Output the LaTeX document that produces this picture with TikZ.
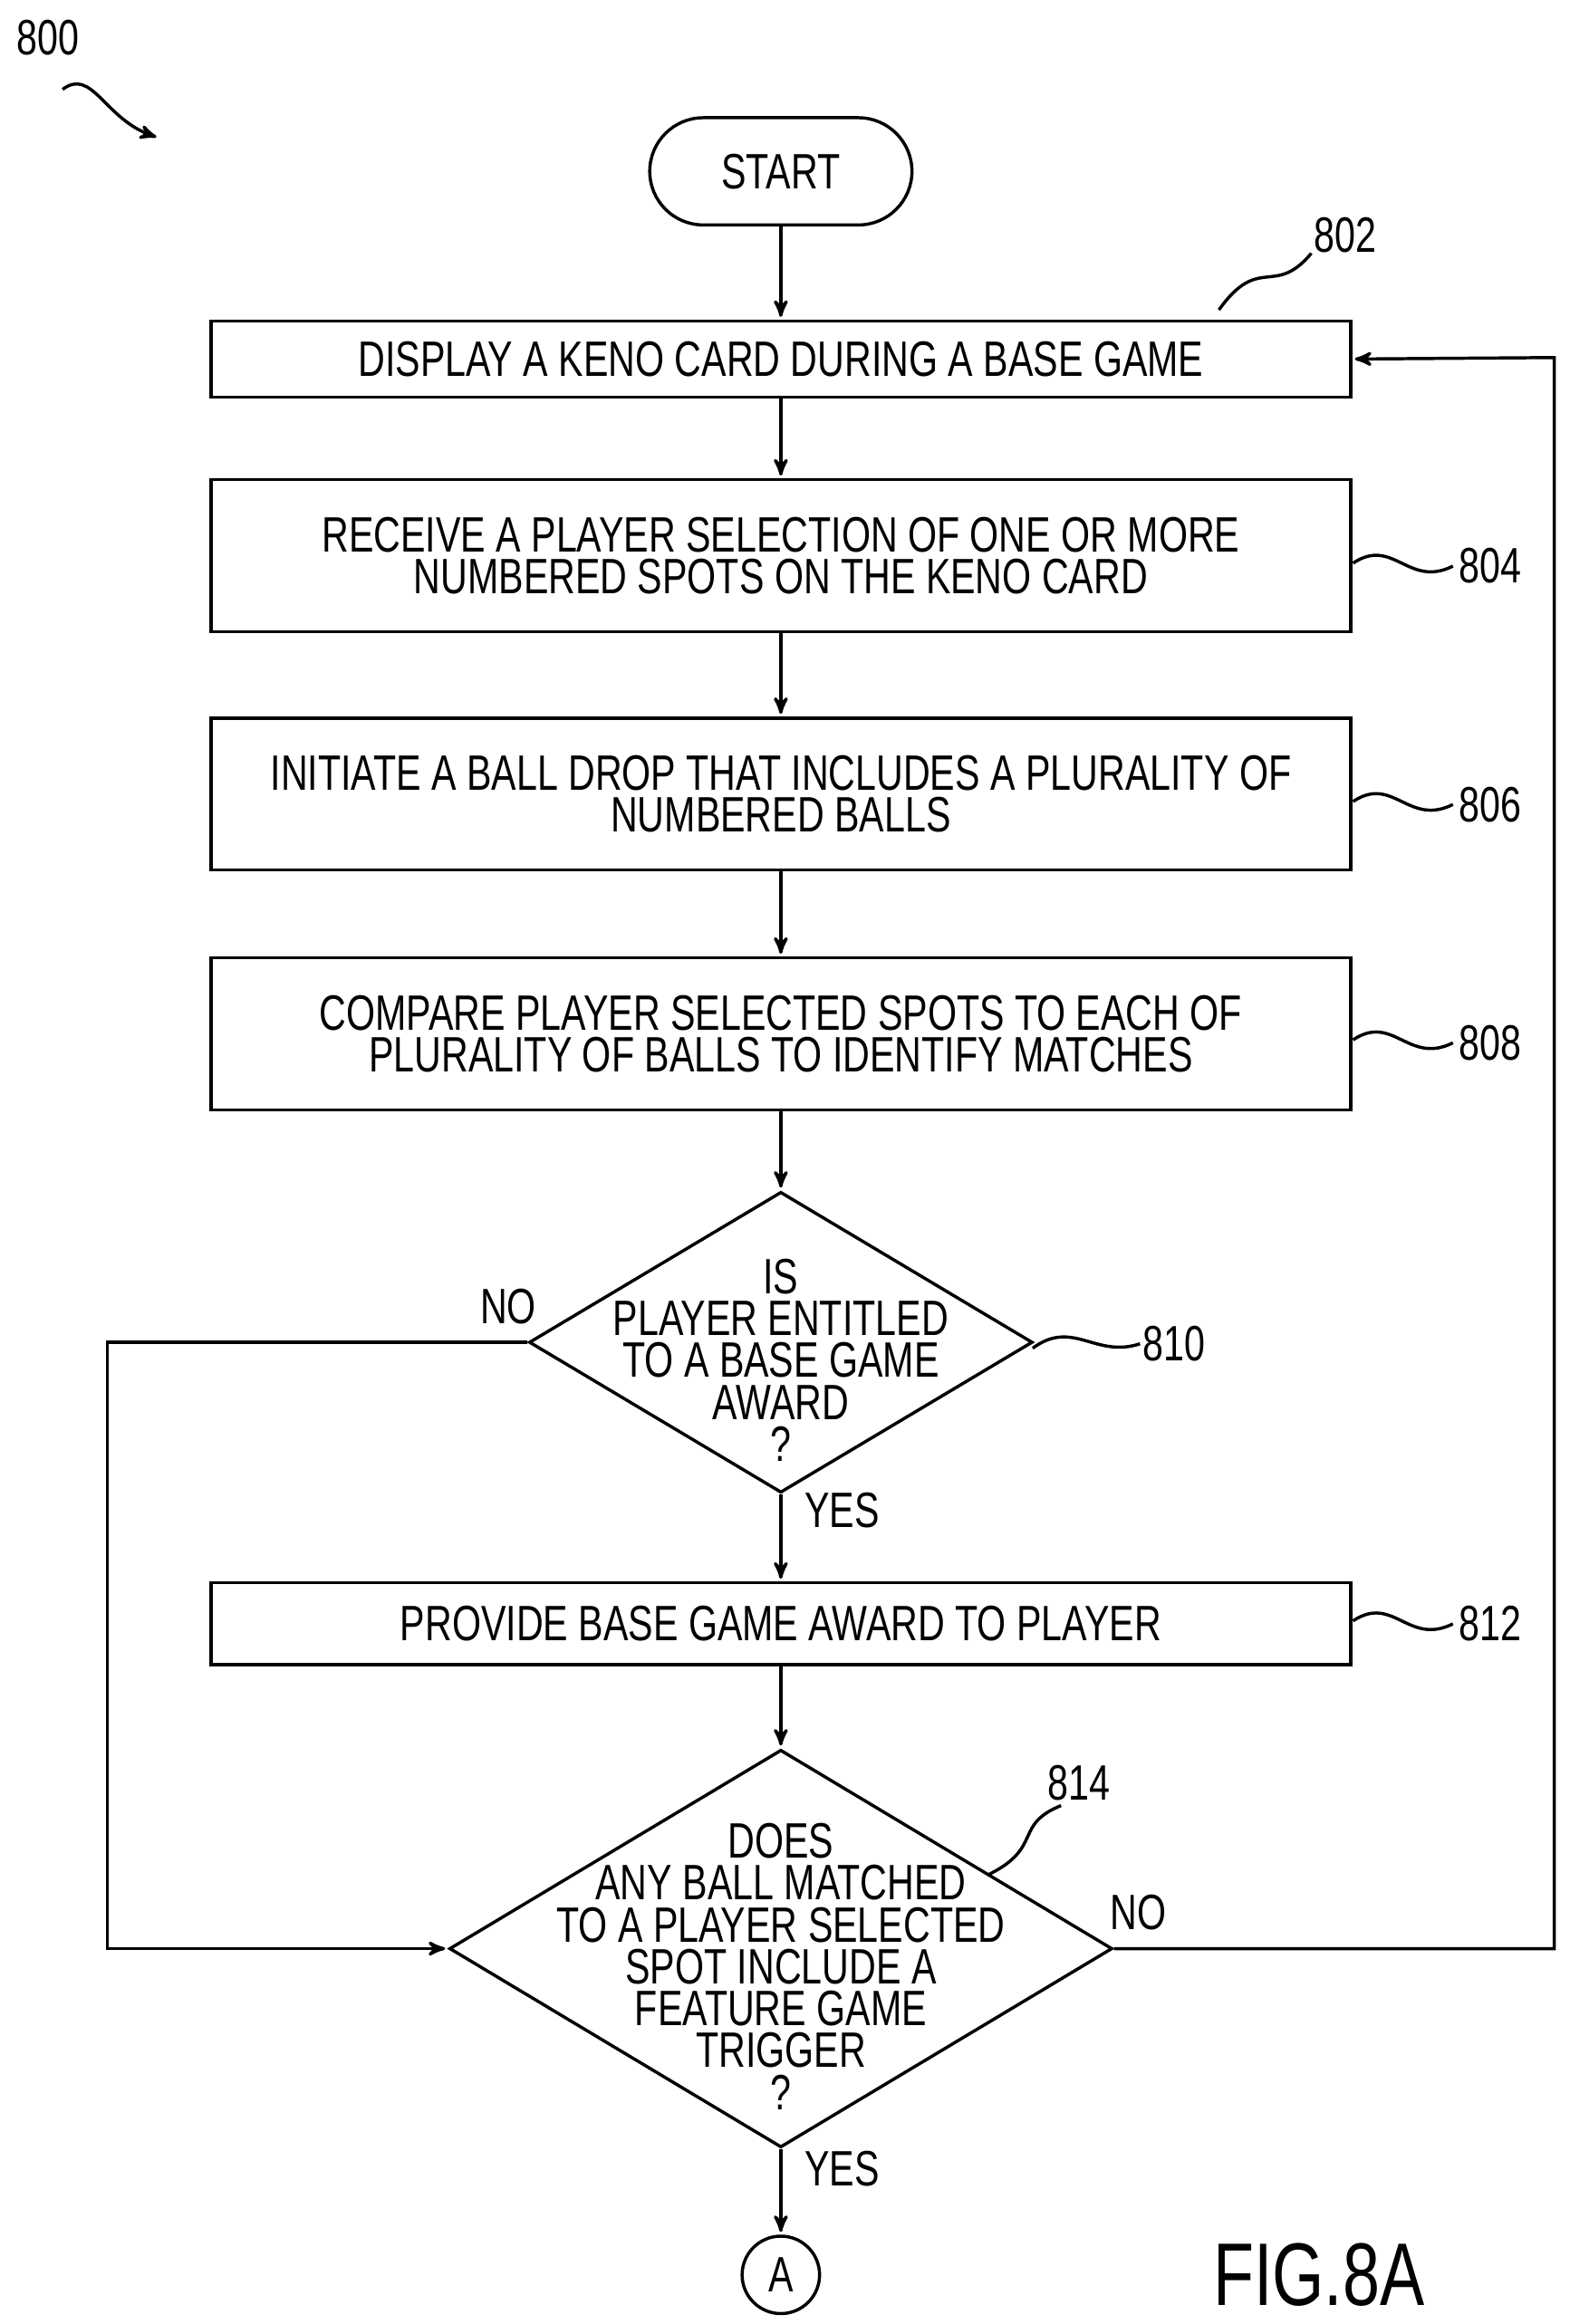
\documentclass[tikz,border=0pt]{standalone}
\usepackage{fontspec}
\setmainfont{Liberation Sans}[FakeStretch=0.75]
\usetikzlibrary{arrows,shapes.geometric}
\begin{document}
\begin{tikzpicture}[x=0.02cm,y=-0.02cm,>=stealth',line width=1.2pt,
  font=\fontsize{19}{16}\selectfont,
  step node/.style={rectangle,draw,minimum width=15.3cm,align=center,inner sep=0pt},
  test node/.style={diamond,draw,inner sep=0pt},
  flow/.style={->,shorten >=1pt}]
  \useasboundingbox (0,0) rectangle (1053,1560);
  % nodes
  \node[draw,rounded corners=0.72cm,minimum width=3.52cm,minimum height=1.44cm] (start) at (524,115) {START};
  \node[step node,minimum height=1.02cm] (802) at (524,241) {DISPLAY A KENO CARD DURING A BASE GAME};
  \node[step node,minimum height=2.04cm] (804) at (524,373) {RECEIVE A PLAYER SELECTION OF ONE OR MORE\\NUMBERED SPOTS ON THE KENO CARD};
  \node[step node,minimum height=2.04cm] (806) at (524,533) {INITIATE A BALL DROP THAT INCLUDES A PLURALITY OF\\NUMBERED BALLS};
  \node[step node,minimum height=2.04cm] (808) at (524,694) {COMPARE PLAYER SELECTED SPOTS TO EACH OF\\PLURALITY OF BALLS TO IDENTIFY MATCHES};
  \node[test node,minimum width=6.76cm,minimum height=4.04cm] (810) at (524,901) {};
  \node[align=center] (810t) at (524,913) {IS\\PLAYER ENTITLED\\TO A BASE GAME\\AWARD\\?};
  \node[step node,minimum height=1.1cm] (812) at (524,1090) {PROVIDE BASE GAME AWARD TO PLAYER};
  \node[test node,minimum width=8.9cm,minimum height=5.34cm] (814) at (524,1308) {};
  \node[align=center] (814t) at (524,1320) {DOES\\ANY BALL MATCHED\\TO A PLAYER SELECTED\\SPOT INCLUDE A\\FEATURE GAME\\TRIGGER\\?};
  \node[circle,draw,minimum size=1.04cm,inner sep=0pt] (A) at (524,1527) {A};
  \coordinate (c1) at (72,901);
  \coordinate (c2) at (72,1308);
  \coordinate (c3) at (1043,1308);
  \coordinate (c4) at (1043,240);
  % connectors
  \draw[flow] (start) -- (802);
  \draw[flow] (802) -- (804);
  \draw[flow] (804) -- (806);
  \draw[flow] (806) -- (808);
  \draw[flow] (808) -- (810);
  \draw[flow] (810) -- (812);
  \draw[flow] (812) -- (814);
  \draw[flow] (814) -- (A);
  \draw[flow] (810.west) -- (c1) -- (c2) -- (814.west);
  \draw[flow] (814.east) -- (c3) -- (c4) -- (802.east);
  \node (no1) at (341,877) {NO};
  \node (yes1) at (565,1014) {YES};
  \node (no2) at (764,1284) {NO};
  \node (yes2) at (565,1456) {YES};
  % reference numerals
  \node (n800) at (32,25) {800};
  \draw[->] (42,60) .. controls (62,45) and (70,80) .. (105,92);
  \node (n802) at (903,158) {802};
  \draw (818,208) .. controls (845,170) and (855,200) .. (880,170);
  \node (n804) at (1000,380) {804};
  \draw (908,378) .. controls (935,360) and (945,395) .. (975,380);
  \node (n806) at (1000,540) {806};
  \draw (908,538) .. controls (935,520) and (945,555) .. (975,540);
  \node (n808) at (1000,700) {808};
  \draw (908,698) .. controls (935,680) and (945,715) .. (975,700);
  \node (n810) at (788,902) {810};
  \draw (693,905) .. controls (720,885) and (735,912) .. (765,902);
  \node (n812) at (1000,1090) {812};
  \draw (908,1088) .. controls (935,1070) and (945,1105) .. (975,1090);
  \node (n814) at (724,1197) {814};
  \draw (664,1258) .. controls (700,1240) and (680,1225) .. (712,1212);
  \node[font=\fontsize{34}{36}\selectfont] (fig) at (885,1527) {FIG.8A};
\end{tikzpicture}
\end{document}
